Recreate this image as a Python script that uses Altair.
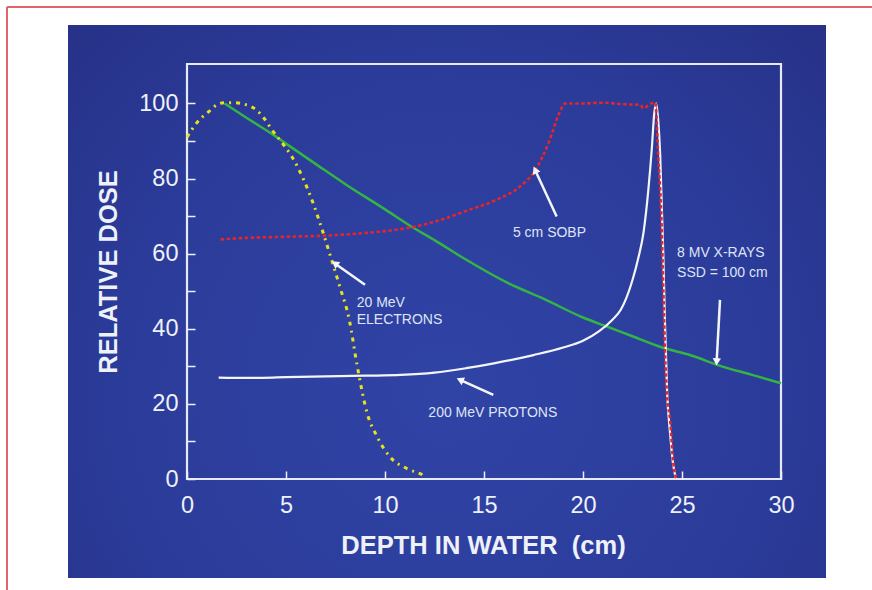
import math
import altair as alt
import pandas as pd

# ---------------- data ----------------
xray_depth = [1.9, 3.0, 4.4, 5.0, 6.6, 8.0, 10.0, 11.3, 12.5, 14.0, 16.2, 18.0, 20.0, 21.2, 22.5, 24.0, 25.4, 27.0, 28.5, 30.0]
xray_dose = [100, 96.2, 91.5, 89.3, 83.5, 78.5, 71.8, 67.3, 63.6, 58.7, 52.2, 48, 43, 40.6, 38, 35, 33, 30, 27.8, 25.5]

sobp_depth = [1.7, 3.0, 5.0, 7.0, 9.0, 10.0, 11.5, 13.0, 14.0, 15.6, 16.8, 17.6, 18.3, 18.8, 19.1, 20.0, 21.0, 22.0, 22.9, 23.05, 23.4, 23.65, 23.8, 23.97, 24.06, 24.14, 24.25, 24.4, 24.56, 24.73]
sobp_dose = [63.8, 64.2, 64.5, 64.8, 65.5, 66.0, 67.2, 69.3, 71.2, 74.3, 77.8, 82.3, 90.0, 97.4, 100.0, 100.0, 100.2, 99.8, 99.6, 98.7, 99.9, 100.2, 86.0, 68.0, 50.0, 34.4, 22.0, 15.7, 4.2, 0.0]

proton_depth = [1.6, 3.0, 5.0, 7.0, 9.0, 10.8, 12.5, 14.1, 15.5, 17.5, 19.0, 20.0, 20.8, 21.5, 21.9, 22.5, 22.8, 23.05, 23.3, 23.47, 23.6, 23.7, 23.9, 24.06, 24.14, 24.25, 24.4, 24.55, 24.7]
proton_dose = [27.0, 26.9, 27.1, 27.3, 27.5, 27.7, 28.3, 29.5, 30.8, 33.0, 35.0, 36.8, 39.3, 42.5, 45.0, 53.0, 59.0, 65.4, 77.0, 87.6, 97.4, 100.0, 86.0, 59.0, 41.5, 23.0, 12.0, 4.0, 0.0]

electron_depth = [0.0, 0.55, 1.1, 1.5, 1.9, 2.4, 3.0, 3.5, 3.9, 4.3, 4.95, 5.3, 5.9, 6.4, 6.8, 7.2, 7.7, 8.2, 8.6, 9.1, 9.6, 10.25, 11.1, 11.9, 12.0]
electron_dose = [91.0, 95.2, 97.8, 99.6, 100.2, 100.2, 99.6, 98.3, 96.0, 92.9, 88.5, 85.8, 79.6, 73.0, 66.8, 60.1, 51.5, 42.3, 30.0, 17.5, 11.3, 5.9, 2.8, 1.1, 0.8]

x_ticks = [0, 5, 10, 15, 20, 25, 30]
y_labels = [0, 20, 40, 60, 80, 100]
y_ticks = [0, 10, 20, 30, 40, 50, 60, 70, 80, 90, 100]

note_text = ["5 cm SOBP", "8 MV X-RAYS", "SSD = 100 cm", "20 MeV", "ELECTRONS", "200 MeV PROTONS"]
note_x = [16.46, 24.75, 24.75, 8.57, 8.57, 12.19]
note_y = [65.5, 60.1, 54.8, 46.8, 42.3, 17.7]

arrow_x1 = [18.67, 26.92, 8.99, 15.47]
arrow_y1 = [69.9, 47.7, 51.7, 22.4]
arrow_x2 = [17.58, 26.75, 7.47, 13.79]
arrow_y2 = [82.3, 31.2, 57.4, 26.4]

# ---------------- layout / style ----------------
W, H = 594, 415
X_MAX, Y_MAX = 30, 110.5
FONT = "Liberation Sans"
FG = "#eef1fa"

px_x = W / X_MAX
px_y = H / Y_MAX
arrow_angle = [
    (math.degrees(math.atan2((b - a) * px_x, (d - c) * px_y)) + 360) % 360
    for a, b, c, d in zip(arrow_x1, arrow_x2, arrow_y1, arrow_y2)
]

frames = []
for name, xs, ys in [("xray", xray_depth, xray_dose), ("sobp", sobp_depth, sobp_dose),
                     ("proton", proton_depth, proton_dose), ("electron", electron_depth, electron_dose)]:
    frames.append(pd.DataFrame({"depth": xs, "dose": ys, "series": name}))
curves = pd.concat(frames, ignore_index=True)

notes = pd.DataFrame({"text": note_text, "x": note_x, "y": note_y})
arrows = pd.DataFrame({"x1": arrow_x1, "y1": arrow_y1, "x2": arrow_x2, "y2": arrow_y2, "angle": arrow_angle})
one = pd.DataFrame({"a": [0]})

xscale = alt.Scale(domain=[0, X_MAX], nice=False, zero=False)
yscale = alt.Scale(domain=[0, Y_MAX], nice=False, zero=False)

x_axis = alt.Axis(values=x_ticks, ticks=False, tickSize=0, domain=False, grid=False, zindex=2,
                  labelFont=FONT, labelFontSize=23.5, labelColor=FG, labelPadding=14,
                  labelFlush=False, labelOverlap=False,
                  title="DEPTH IN WATER\u00a0 (cm)", titleFont=FONT, titleFontSize=25.5,
                  titleFontWeight="bold", titleColor=FG, titleX=W / 2 - 1, titleY=66,
                  titleBaseline="middle", titleAlign="center")
y_axis = alt.Axis(values=y_labels, ticks=False, tickSize=0, domain=False, grid=False, zindex=2,
                  labelFont=FONT, labelFontSize=23.5, labelColor=FG, labelPadding=9,
                  labelFlush=False, labelOverlap=False,
                  title="RELATIVE DOSE", titleFont=FONT, titleFontSize=25.5,
                  titleFontWeight="bold", titleColor=FG, titleAngle=270, titleX=-79,
                  titleY=H / 2, titleBaseline="middle", titleAlign="center")

tick_x_axis = alt.Axis(orient="top", offset=-H, values=x_ticks, labels=False, domain=False, zindex=2,
                       grid=False, ticks=True, tickSize=8, tickWidth=1.5, tickColor=FG, title=None)
tick_y_axis = alt.Axis(orient="right", offset=-W, values=y_ticks, labels=False, domain=False, zindex=2,
                       grid=False, ticks=True, tickSize=8, tickWidth=1.5, tickColor=FG, title=None)

bg = alt.Chart(one).mark_rect(
    fill=alt.RadialGradient(
        gradient="radial",
        stops=[alt.GradientStop(color="#3044a6", offset=0),
               alt.GradientStop(color="#2b3b99", offset=0.55),
               alt.GradientStop(color="#252e80", offset=1)],
        x1=0.5, y1=0.62, r1=0, x2=0.5, y2=0.62, r2=0.8),
).encode(x=alt.value(-119), x2=alt.value(639), y=alt.value(-39), y2=alt.value(514))

frame = alt.Chart(one).mark_rect(fill=None, fillOpacity=0, stroke="#e6eaf5", strokeWidth=2.2).encode(
    x=alt.value(0), x2=alt.value(W), y=alt.value(0), y2=alt.value(H))

border_top = alt.Chart(one).mark_rule(color="#e06468", strokeWidth=2).encode(
    x=alt.value(-180), x2=alt.value(700), y=alt.value(-57))
border_left = alt.Chart(one).mark_rule(color="#e06468", strokeWidth=2).encode(
    x=alt.value(-180), y=alt.value(-57), y2=alt.value(540))

base = alt.Chart(curves)


def curve(name, first=False, **mark_kw):
    xa = x_axis if first else None
    ya = y_axis if first else None
    return base.transform_filter(alt.datum.series == name).mark_line(
        interpolate="monotone", **mark_kw
    ).encode(
        x=alt.X("depth:Q", scale=xscale, axis=xa),
        y=alt.Y("dose:Q", scale=yscale, axis=ya),
        order="depth:Q",
    )


green = curve("xray", first=True, color="#33b545", strokeWidth=2.5)
white = curve("proton", color="#f4f5f8", strokeWidth=2.2)
yellow = curve("electron", color="#e8e21c", strokeWidth=3, strokeDash=[4, 5, 2, 5])
red = curve("sobp", color="#e3262c", strokeWidth=2.6, strokeDash=[3.5, 2.5])

arrow_lines = alt.Chart(arrows).mark_rule(color="#f4f5f8", strokeWidth=2.5).encode(
    x=alt.X("x1:Q", scale=xscale, axis=None), y=alt.Y("y1:Q", scale=yscale, axis=None),
    x2="x2:Q", y2="y2:Q")
arrow_heads = alt.Chart(arrows).mark_point(shape="triangle-up", filled=True, size=70,
                                           color="#f4f5f8", opacity=1).encode(
    x=alt.X("x2:Q", scale=xscale, axis=None), y=alt.Y("y2:Q", scale=yscale, axis=None),
    angle=alt.Angle("angle:Q", scale=None))

labels = alt.Chart(notes).mark_text(align="left", baseline="middle", font=FONT,
                                    fontSize=14, color="#dfe4f5").encode(
    x=alt.X("x:Q", scale=xscale, axis=None), y=alt.Y("y:Q", scale=yscale, axis=None),
    text="text:N")

tick_layer = base.mark_point(opacity=0).encode(
    x=alt.X("depth:Q", scale=xscale, axis=tick_x_axis),
    y=alt.Y("dose:Q", scale=yscale, axis=tick_y_axis))

chart = alt.layer(
    bg, border_top, border_left, frame, green, white, yellow, red,
    arrow_lines, arrow_heads, labels, tick_layer
).resolve_axis(x="independent", y="independent").properties(
    width=W, height=H,
    autosize=alt.AutoSizeParams(type="none"),
    padding={"left": 187, "top": 64, "right": 91, "bottom": 111},
    background="white",
).configure_view(stroke=None).configure_axis(grid=False)

chart.save("out.html", embed_options={"renderer": "svg", "actions": False})
